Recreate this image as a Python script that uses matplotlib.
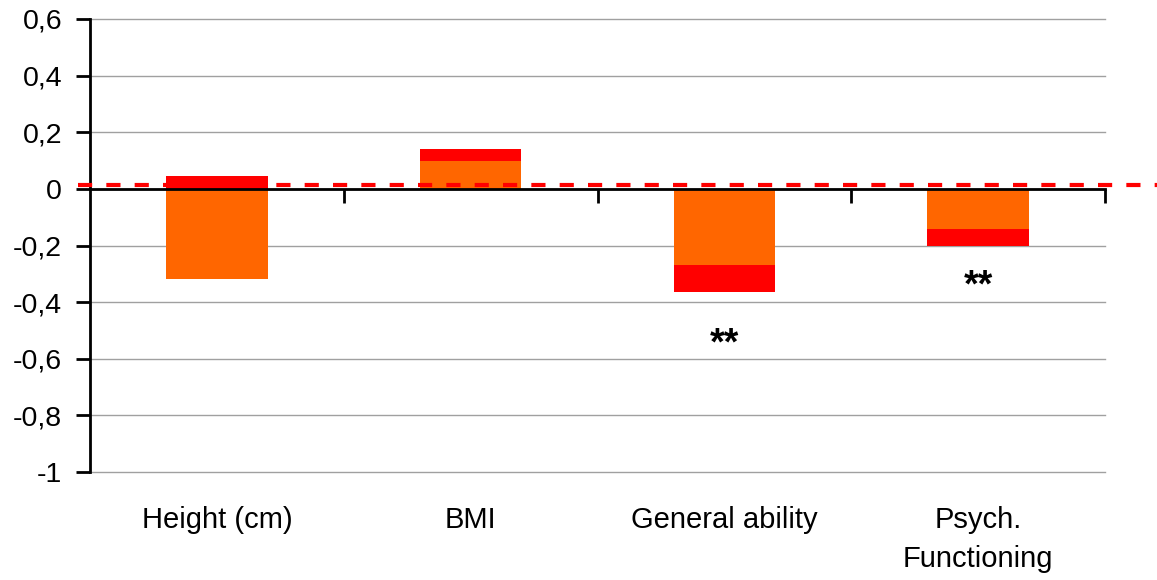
import matplotlib.pyplot as plt
from matplotlib.ticker import FuncFormatter

# Data
categories = ["Height (cm)", "BMI", "General ability", "Psych.\nFunctioning"]
orange_part = [-0.32, 0.10, -0.27, -0.14]
red_part = [0.046, 0.04, -0.093, -0.06]
stars = ["", "", "**", "**"]
star_y = [0, 0, -0.548, -0.343]
ref_level = 0.012

plt.rcParams['font.family'] = ['Liberation Sans', 'DejaVu Sans']

fig = plt.figure(figsize=(11.57, 5.8), dpi=100)
ax = fig.add_axes([90 / 1157, 108 / 580, 1015 / 1157, 453 / 580])

x = list(range(len(categories)))

# stacked like excel: positives and negatives stack separately
red_bottom = []
for o, r in zip(orange_part, red_part):
    if (o >= 0) == (r >= 0):
        red_bottom.append(o)
    else:
        red_bottom.append(0)

ax.bar(x, orange_part, width=0.4, color='#FF6600', zorder=2)
ax.bar(x, red_part, width=0.4, bottom=red_bottom, color='#FF0000', zorder=2)

ax.set_xlim(-0.5, 3.5)
ax.set_ylim(-1, 0.6)
ax.set_yticks([0.6, 0.4, 0.2, 0, -0.2, -0.4, -0.6, -0.8, -1])
ax.yaxis.set_major_formatter(FuncFormatter(lambda v, p: f"{round(v, 1):g}".replace('.', ',') if abs(v) > 1e-9 else "0"))
ax.tick_params(axis='y', length=10, width=2, pad=10, labelsize=20.5)
ax.yaxis.grid(True, color='#A0A0A0', linewidth=1, zorder=0)
for gl in ax.get_ygridlines():
    gl.set_clip_on(False)

# x axis at zero with ticks at the category boundaries
ax.spines['bottom'].set_position(('data', 0))
ax.spines['bottom'].set_linewidth(2)
ax.spines['bottom'].set_zorder(3)
ax.spines['left'].set_linewidth(2)
ax.spines['top'].set_visible(False)
ax.spines['right'].set_visible(False)
ax.set_xticks([0.5, 1.5, 2.5, 3.5])
ax.set_xticklabels([])
ax.tick_params(axis='x', direction='out', length=10, width=2)

for i, lab in enumerate(categories):
    ax.text(i, -0.075, lab, transform=ax.get_xaxis_transform(), ha='center', va='top',
            fontsize=21, linespacing=1.5)

for i, s in enumerate(stars):
    if s:
        ax.text(i, star_y[i], s, ha='center', va='center', fontsize=27, fontweight='bold')

# red dashed reference line running past the plot area
ax.axhline(ref_level, xmin=-0.012, xmax=1.06, color='#FF0000', linewidth=3,
           linestyle=(0, (3.4, 3.4)), clip_on=False, zorder=4)

fig.savefig('out.png', dpi=100)
